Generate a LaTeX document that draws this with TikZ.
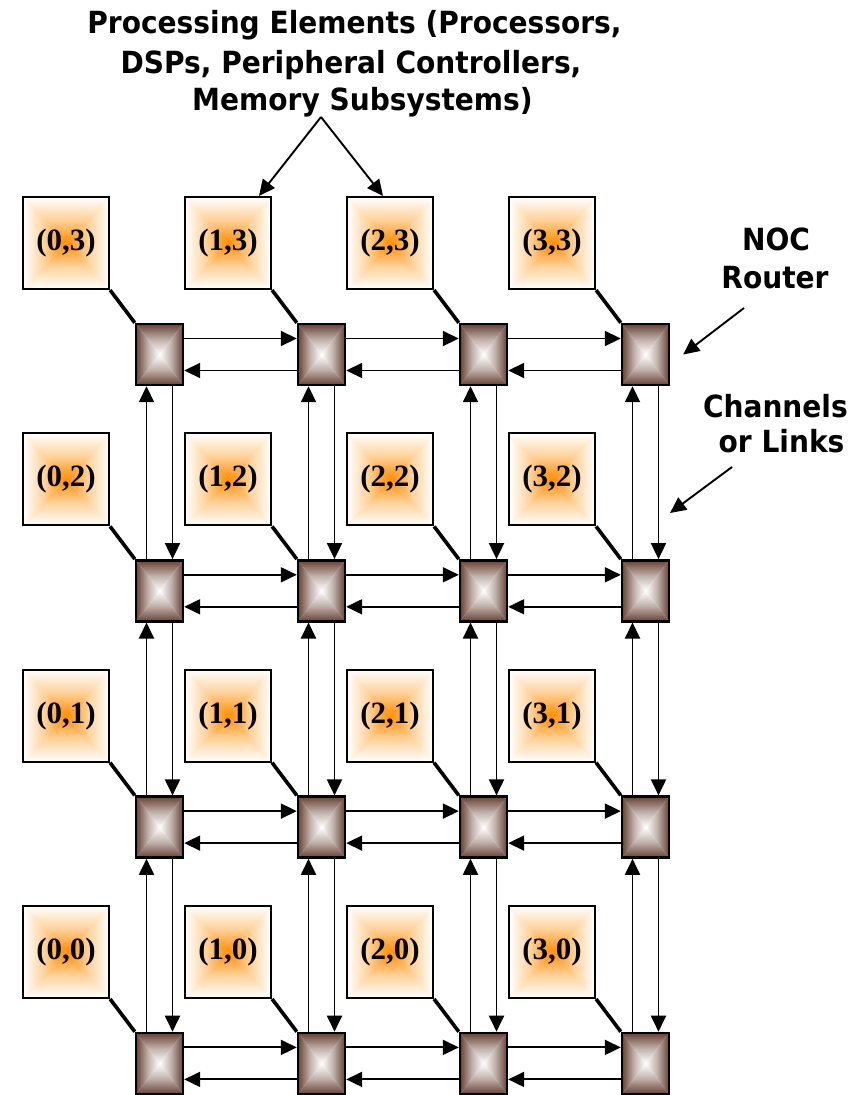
\documentclass[tikz,border=0pt]{standalone}
\usepackage{fontspec}
\setmainfont{Liberation Serif}
\newfontfamily\labelfont[FakeStretch=0.92]{DejaVu Sans}
\usetikzlibrary{arrows.meta}

\definecolor{peorange}{RGB}{255,140,0}
\definecolor{routerbrown}{RGB}{104,66,52}

\tikzset{
  % rectangular gradient: four triangles shaded from the border towards the centre
  % (the middle colour is given last, since the outer colours reset it)
  rectgrad/.style n args={3}{path picture={
    \path (path picture bounding box.north west) coordinate (gNW)
          (path picture bounding box.north east) coordinate (gNE)
          (path picture bounding box.south west) coordinate (gSW)
          (path picture bounding box.south east) coordinate (gSE)
          (path picture bounding box.center)     coordinate (gC);
    \shade[top color=#1, bottom color=#2, middle color=#3] (gNW) -- (gNE) -- (gC) -- cycle;
    \shade[bottom color=#1, top color=#2, middle color=#3] (gSW) -- (gSE) -- (gC) -- cycle;
    \shade[left color=#1, right color=#2, middle color=#3] (gNW) -- (gSW) -- (gC) -- cycle;
    \shade[right color=#1, left color=#2, middle color=#3] (gNE) -- (gSE) -- (gC) -- cycle;
  }},
  pe/.style={draw=black, line width=2.2pt, minimum width=86pt, minimum height=92pt,
    inner sep=0pt, rectgrad={white}{peorange}{peorange!40},
    font=\fontsize{31pt}{31pt}\selectfont\bfseries},
  router/.style={draw=black, line width=2.4pt, minimum width=47pt, minimum height=61pt,
    inner sep=0pt, rectgrad={routerbrown}{white}{routerbrown!42}},
  link/.style={line width=1.9pt, -{Triangle[length=16pt,width=15pt]}},
  tie/.style={line width=3.6pt},
  note/.style={font=\labelfont\bfseries\fontsize{30.5pt}{30.5pt}\selectfont,
    inner sep=0pt, anchor=base},
}

\begin{document}
\begin{tikzpicture}[x=1pt, y=-1pt]
\useasboundingbox (0,0) rectangle (849,1095);

% routers and processing elements
\foreach \i in {0,...,3} {
  \foreach \j in {0,...,3} {
    \pgfmathsetmacro\rx{159.5+162*\i}
    \pgfmathsetmacro\ry{354.5+236.3*(3-\j)}
    \node[router] (R-\i-\j) at (\rx,\ry) {};
    \node[pe] (P-\i-\j) at (\rx-93.5,\ry-111.5) {(\i,\j)};
    \draw[tie] (P-\i-\j.south east) -- (R-\i-\j.north west);
  }
}

% horizontal channels
\foreach \i [evaluate=\i as \k using int(\i+1)] in {0,1,2} {
  \foreach \j in {0,...,3} {
    \draw[link] ([yshift=16pt]R-\i-\j.east) -- ([yshift=16pt]R-\k-\j.west);
    \draw[link] ([yshift=-16pt]R-\k-\j.west) -- ([yshift=-16pt]R-\i-\j.east);
  }
}

% vertical channels
\foreach \i in {0,...,3} {
  \foreach \j [evaluate=\j as \k using int(\j+1)] in {0,1,2} {
    \draw[link] ([xshift=-13pt]R-\i-\j.north) -- ([xshift=-13pt]R-\i-\k.south);
    \draw[link] ([xshift=13pt]R-\i-\k.south) -- ([xshift=13pt]R-\i-\j.north);
  }
}

% caption for the processing elements
\node[note] (cap1) at (354.5,33.3) {Processing Elements (Processors,};
\node[note] (cap2) at (351,73.3) {DSPs, Peripheral Controllers,};
\node[note] (cap3) at (362.5,110) {Memory Subsystems)};
\coordinate (apex) at (321,117);
\draw[link] (apex) -- ([xshift=31pt]P-1-3.north);
\draw[link] (apex) -- ([xshift=-7pt]P-2-3.north);

% router label
\node[note] (noc) at (776,250) {NOC};
\node[note] (rtr) at (775,288) {Router};
\coordinate (nocfrom) at (744,308);
\draw[link] (nocfrom) -- ([xshift=13pt]R-3-3.east);

% channel label
\node[note, anchor=base east] (chn) at (848,417) {Channels};
\node[note] (lnk) at (781.5,452) {or Links};
\coordinate (chfrom) at (732,467);
\coordinate (chto) at (670,513);
\draw[link] (chfrom) -- (chto);
\end{tikzpicture}
\end{document}
